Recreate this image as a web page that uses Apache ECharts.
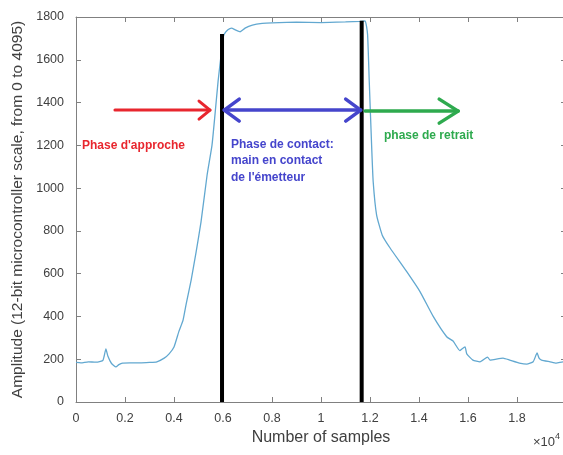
<!DOCTYPE html>
<html>
<head>
<meta charset="utf-8">
<script src="https://cdn.jsdelivr.net/npm/echarts@6/dist/echarts.min.js"></script>
<style>
  html, body { margin: 0; padding: 0; background: #fff; }
  #chart { width: 563px; height: 455px; }
</style>
</head>
<body>
<div id="chart"></div>
<script>
// ---- Data (x in samples, y in 12-bit amplitude) ----
const sampleX = [0, 200, 500, 800, 1000, 1100, 1150, 1220, 1300, 1450, 1630, 1750, 1900, 2200, 2600, 3000, 3300, 3600, 3800, 4000, 4200, 4370, 4500, 4700, 4900, 5100, 5350, 5550, 5670, 5800, 5950, 6000, 6050, 6200, 6350, 6500, 6700, 6900, 7200, 7600, 8000, 9000, 10000, 11000, 11600, 11800, 11900, 11970, 12070, 12130, 12270, 12500, 12820, 13500, 14040, 14580, 15130, 15390, 15670, 15750, 15880, 15950, 16200, 16490, 16800, 16900, 17430, 17700, 18100, 18400, 18660, 18820, 18900, 19000, 19350, 19600, 19900, 20000];
const amplitude = [185, 183, 188, 186, 190, 195, 215, 248, 215, 180, 164, 175, 182, 183, 183, 185, 188, 205, 225, 257, 330, 383, 460, 570, 700, 840, 1060, 1200, 1340, 1500, 1650, 1700, 1720, 1740, 1748, 1740, 1731, 1748, 1762, 1770, 1773, 1776, 1774, 1777, 1780, 1782, 1720, 1497, 1187, 1030, 874, 780, 720, 609, 516, 400, 305, 285, 240, 248, 258, 225, 196, 188, 210, 196, 205, 196, 182, 177, 188, 229, 205, 196, 188, 182, 188, 185];

// Phase boundaries (black vertical lines)
const boundaryX = [5960, 11660];
const boundaryTop = [1720, 1783];

// Arrows: [xStart, xEnd, y]
const arrowRed = [1590, 5470, 1365];
const arrowBlue = [6050, 11620, 1365];
const arrowGreen = [11800, 15600, 1360];

// Tick labels
const xTickLabels = ['0', '0.2', '0.4', '0.6', '0.8', '1', '1.2', '1.4', '1.6', '1.8', '2'];
const yTickLabels = ['0', '200', '400', '600', '800', '1000', '1200', '1400', '1600', '1800'];

// Annotation texts
const textApproche = "Phase d'approche";
const textContact = ["Phase de contact:", "main en contact", "de l'émetteur"];
const textRetrait = "phase de retrait";

const FONT = "'Liberation Sans', Arial, Helvetica, sans-serif";
const AXIS_GRAY = '#808080';
const LABEL_COLOR = '#404040';

const chart = echarts.init(document.getElementById('chart'), null, { renderer: 'canvas' });

const curveData = sampleX.map((x, i) => [x, amplitude[i]]);
const boundaryData = [];
boundaryX.forEach((x, i) => {
  boundaryData.push([x, 0], [x, boundaryTop[i]], [null, null]);
});

function arrowSeries(name, arr, color, width, headLen, headHalf, startHead, endHead) {
  return {
    name: name,
    type: 'custom',
    xAxisIndex: 0, yAxisIndex: 0,
    data: [arr],
    silent: true,
    z: 5,
    clip: false,
    renderItem: function (params, api) {
      const p1 = api.coord([api.value(0), api.value(2)]);
      const p2 = api.coord([api.value(1), api.value(2)]);
      const style = { stroke: color, lineWidth: width, fill: null, lineCap: 'round', lineJoin: 'round' };
      const children = [{
        type: 'line',
        shape: { x1: p1[0], y1: p1[1], x2: p2[0], y2: p2[1] },
        style: style
      }];
      if (endHead) {
        children.push({
          type: 'polyline',
          shape: { points: [[p2[0] - headLen, p2[1] - headHalf], [p2[0], p2[1]], [p2[0] - headLen, p2[1] + headHalf]] },
          style: style
        });
      }
      if (startHead) {
        children.push({
          type: 'polyline',
          shape: { points: [[p1[0] + headLen, p1[1] - headHalf], [p1[0], p1[1]], [p1[0] + headLen, p1[1] + headHalf]] },
          style: style
        });
      }
      return { type: 'group', children: children };
    }
  };
}

const option = {
  backgroundColor: '#ffffff',
  animation: false,
  textStyle: { fontFamily: FONT },
  grid: { left: 76, right: -3, top: 17, bottom: 53, containLabel: false, outerBoundsMode: 'none' },
  xAxis: [{
    type: 'value', min: 0, max: 20000, interval: 2000, position: 'bottom',
    name: 'Number of samples', nameLocation: 'middle', nameGap: 28,
    nameTextStyle: { fontFamily: FONT, fontSize: 16, color: LABEL_COLOR },
    axisLine: { show: true, onZero: false, lineStyle: { color: AXIS_GRAY, width: 1 } },
    axisTick: { show: true, inside: true, length: 5, lineStyle: { color: AXIS_GRAY } },
    axisLabel: { fontFamily: FONT, fontSize: 12.5, color: LABEL_COLOR, margin: 10,
      showMaxLabel: true, hideOverlap: false,
      formatter: v => xTickLabels[Math.round(v / 2000)] },
    splitLine: { show: false }
  }, {
    type: 'value', min: 0, max: 20000, interval: 2000, position: 'top',
    axisLine: { show: true, onZero: false, lineStyle: { color: AXIS_GRAY, width: 1 } },
    axisTick: { show: true, inside: true, length: 5, lineStyle: { color: AXIS_GRAY } },
    axisLabel: { show: false },
    splitLine: { show: false }
  }],
  yAxis: [{
    type: 'value', min: 0, max: 1800, interval: 200, position: 'left',
    name: 'Amplitude (12-bit microcontroller scale, from 0 to 4095)',
    nameLocation: 'middle', nameGap: 50, nameRotate: 90,
    nameTextStyle: { fontFamily: FONT, fontSize: 15.5, color: LABEL_COLOR },
    axisLine: { show: true, onZero: false, lineStyle: { color: AXIS_GRAY, width: 1 } },
    axisTick: { show: true, inside: true, length: 5, lineStyle: { color: AXIS_GRAY } },
    axisLabel: { fontFamily: FONT, fontSize: 12.5, color: LABEL_COLOR, margin: 12,
      formatter: v => yTickLabels[Math.round(v / 200)] },
    splitLine: { show: false }
  }, {
    type: 'value', min: 0, max: 1800, interval: 200, position: 'right',
    axisLine: { show: true, onZero: false, lineStyle: { color: AXIS_GRAY, width: 1 } },
    axisTick: { show: true, inside: true, length: 5, lineStyle: { color: AXIS_GRAY } },
    axisLabel: { show: false },
    splitLine: { show: false }
  }],
  series: [
    {
      name: 'Amplitude', type: 'line', xAxisIndex: 0, yAxisIndex: 0,
      data: curveData, showSymbol: false, smooth: 0.15,
      lineStyle: { color: '#62a8d0', width: 1.3 }, z: 3
    },
    {
      name: 'Boundaries', type: 'line', xAxisIndex: 0, yAxisIndex: 0,
      data: boundaryData, showSymbol: false, connectNulls: false,
      lineStyle: { color: '#000000', width: 4, cap: 'butt' }, z: 4
    },
    arrowSeries('Approche', arrowRed, '#e8262e', 3, 11, 9, false, true),
    arrowSeries('Contact', arrowBlue, '#4545cc', 3.5, 15, 11, true, true),
    arrowSeries('Retrait', arrowGreen, '#2eaa4e', 3.5, 19, 12, false, true)
  ],
  graphic: [
    {
      type: 'text', left: 82, top: 140, silent: true,
      style: { text: textApproche, fill: '#e8262e', font: 'bold 12px ' + FONT }
    },
    {
      type: 'text', left: 231, top: 136, silent: true,
      style: { text: textContact.join('\n'), fill: '#4545cc', font: 'bold 12px ' + FONT, lineHeight: 16.5 }
    },
    {
      type: 'text', left: 384, top: 130, silent: true,
      style: { text: textRetrait, fill: '#2eaa4e', font: 'bold 12px ' + FONT }
    },
    {
      type: 'text', left: 533, top: 432, silent: true,
      style: {
        text: '{b|×10}{s|4}',
        rich: {
          b: { fontFamily: FONT, fontSize: 13, fill: LABEL_COLOR, color: LABEL_COLOR, verticalAlign: 'bottom' },
          s: { fontFamily: FONT, fontSize: 9, fill: LABEL_COLOR, color: LABEL_COLOR, verticalAlign: 'top', padding: [0, 0, 8, 0] }
        }
      }
    }
  ]
};

chart.setOption(option);
</script>
</body>
</html>
